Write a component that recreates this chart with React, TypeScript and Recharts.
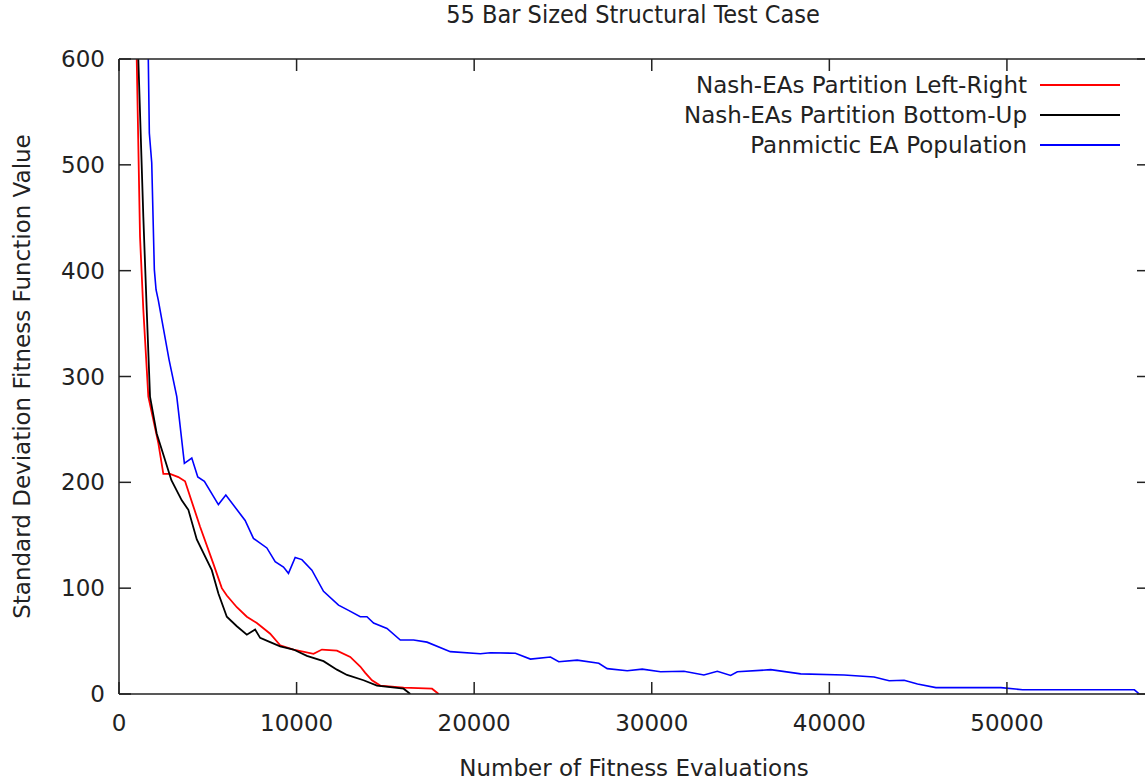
import { LineChart, Line, XAxis, YAxis, Label } from 'recharts';

const FONT = "'DejaVu Sans', Verdana, sans-serif";
const TITLE_FONT = "'DejaVu Sans Condensed', 'Liberation Sans Narrow', 'DejaVu Sans', sans-serif";

const xTicks = [0, 10000, 20000, 30000, 40000, 50000];
const yTicks = [0, 100, 200, 300, 400, 500, 600];

// Nash-EAs, left-right partition
const leftRight = [
  { x: 900, y: 670 }, { x: 998, y: 600 }, { x: 1184, y: 432 }, { x: 1370, y: 363 },
  { x: 1652, y: 281 }, { x: 2215, y: 237 }, { x: 2497, y: 208 }, { x: 2875, y: 208 },
  { x: 3343, y: 205 }, { x: 3720, y: 201 }, { x: 4566, y: 158 }, { x: 5316, y: 123 },
  { x: 5789, y: 100 }, { x: 6071, y: 93 }, { x: 6635, y: 82 }, { x: 7198, y: 73 },
  { x: 7762, y: 67 }, { x: 8512, y: 57 }, { x: 9076, y: 46 }, { x: 9825, y: 42 },
  { x: 10953, y: 38 }, { x: 11427, y: 42 }, { x: 12271, y: 41 }, { x: 13021, y: 35 },
  { x: 13585, y: 26 }, { x: 13867, y: 20 }, { x: 14245, y: 13 }, { x: 14713, y: 8 },
  { x: 16026, y: 6 }, { x: 17627, y: 5 }, { x: 17999, y: 0 },
];

// Nash-EAs, bottom-up partition
const bottomUp = [
  { x: 1000, y: 680 }, { x: 1088, y: 600 }, { x: 1370, y: 451 }, { x: 1561, y: 363 },
  { x: 1747, y: 281 }, { x: 2125, y: 246 }, { x: 2407, y: 231 }, { x: 2950, y: 202 },
  { x: 3534, y: 183 }, { x: 3906, y: 174 }, { x: 4380, y: 146 }, { x: 5225, y: 117 },
  { x: 5597, y: 95 }, { x: 6071, y: 73 }, { x: 6635, y: 64 }, { x: 7198, y: 56 },
  { x: 7666, y: 61 }, { x: 7948, y: 53 }, { x: 8512, y: 49 }, { x: 9076, y: 45 },
  { x: 9825, y: 42 }, { x: 10581, y: 36 }, { x: 11516, y: 31 }, { x: 12271, y: 23 },
  { x: 12836, y: 18 }, { x: 13771, y: 13 }, { x: 14526, y: 8 }, { x: 16026, y: 5 },
  { x: 16403, y: 0 },
];

// panmictic EA population
const panmictic = [
  { x: 1600, y: 660 }, { x: 1708, y: 530 }, { x: 1843, y: 502 }, { x: 1990, y: 401 },
  { x: 2086, y: 382 }, { x: 2215, y: 372 }, { x: 2818, y: 316 }, { x: 3253, y: 281 },
  { x: 3343, y: 268 }, { x: 3681, y: 218 }, { x: 4098, y: 223 }, { x: 4436, y: 205 },
  { x: 4808, y: 201 }, { x: 5597, y: 179 }, { x: 6015, y: 188 }, { x: 7103, y: 164 },
  { x: 7571, y: 147 }, { x: 8326, y: 138 }, { x: 8794, y: 125 }, { x: 9262, y: 120 },
  { x: 9543, y: 114 }, { x: 9921, y: 129 }, { x: 10299, y: 127 }, { x: 10862, y: 117 },
  { x: 11516, y: 97 }, { x: 12362, y: 84 }, { x: 12926, y: 79 }, { x: 13585, y: 73 },
  { x: 13963, y: 73 }, { x: 14335, y: 67 }, { x: 15090, y: 62 }, { x: 15840, y: 51 },
  { x: 16590, y: 51 }, { x: 17345, y: 49 }, { x: 18658, y: 40 }, { x: 20350, y: 38 },
  { x: 20913, y: 39 }, { x: 22323, y: 38.5 }, { x: 23168, y: 33 }, { x: 24296, y: 35 },
  { x: 24764, y: 30.5 }, { x: 25800, y: 32 }, { x: 27018, y: 29 }, { x: 27492, y: 24 },
  { x: 28619, y: 22 }, { x: 29465, y: 23.5 }, { x: 30496, y: 21 }, { x: 31810, y: 21.5 },
  { x: 32937, y: 18 }, { x: 33692, y: 21.5 }, { x: 34442, y: 17.5 }, { x: 34820, y: 21 },
  { x: 36697, y: 23 }, { x: 38388, y: 19 }, { x: 40829, y: 18 }, { x: 42520, y: 16 },
  { x: 43366, y: 12.5 }, { x: 44211, y: 13 }, { x: 44966, y: 9.5 }, { x: 45998, y: 6 },
  { x: 49662, y: 6 }, { x: 50885, y: 4 }, { x: 57177, y: 4 }, { x: 57459, y: 0 },
];

const seriesNames = ['Nash-EAs Partition Left-Right', 'Nash-EAs Partition Bottom-Up', 'Panmictic EA Population'];
const seriesColors = ['#ff0000', '#000000', '#0000ff'];

const tickStyle = { fill: '#222', fontSize: 23, fontFamily: FONT };
const AXIS = '#222';

function KeyBox() {
  return (
    <div style={{ position: 'absolute', top: 70, right: 1145 - 1120, fontFamily: FONT, fontSize: 23, color: '#222' }}>
      {seriesNames.map((name, i) => (
        <div
          key={name}
          style={{ display: 'flex', alignItems: 'center', justifyContent: 'flex-end', height: 30 }}
        >
          <span style={{ whiteSpace: 'nowrap' }}>{name}</span>
          <span
            style={{ display: 'inline-block', width: 80, height: 0, borderTop: `2px solid ${seriesColors[i]}`, marginLeft: 13 }}
          />
        </div>
      ))}
    </div>
  );
}

export default function App() {
  return (
    <div style={{ position: 'absolute', left: 0, top: 0, width: 1145, height: 784, overflow: 'hidden', background: '#fff' }}>
      <div
        style={{
          position: 'absolute', top: 0, left: 633, transform: 'translateX(-50%)', whiteSpace: 'nowrap',
          fontFamily: TITLE_FONT, fontStretch: 'condensed', fontSize: 25, lineHeight: '30px', color: '#222',
        }}
      >
        55 Bar Sized Structural Test Case
      </div>
      <div style={{ position: 'absolute', left: 0, top: 0 }}>
        <LineChart width={1150} height={784} margin={{ top: 49, right: 0, bottom: 0, left: 0 }}>
          <XAxis
            type="number"
            dataKey="x"
            domain={[0, 58000]}
            allowDataOverflow
            ticks={xTicks}
            height={90}
            stroke={AXIS}
            strokeWidth={1.5}
            tickSize={-12}
            tickMargin={33}
            tick={tickStyle}
          >
            <Label
              value="Number of Fitness Evaluations"
              position="insideBottom"
              offset={8}
              style={{ fill: '#222', fontSize: 23, fontFamily: FONT }}
            />
          </XAxis>
          <XAxis
            xAxisId="top"
            orientation="top"
            type="number"
            dataKey="x"
            domain={[0, 58000]}
            allowDataOverflow
            ticks={xTicks}
            height={10}
            stroke={AXIS}
            strokeWidth={1.5}
            tickSize={-12}
            tick={() => <g />}
          />
          <YAxis
            type="number"
            domain={[0, 600]}
            allowDataOverflow
            ticks={yTicks}
            width={119}
            stroke={AXIS}
            strokeWidth={1.5}
            tickSize={-12}
            tickMargin={26}
            tick={tickStyle}
          >
            <Label
              value="Standard Deviation Fitness Function Value"
              angle={-90}
              position="insideLeft"
              offset={22}
              style={{ textAnchor: 'middle', fill: '#222', fontSize: 23, fontFamily: FONT }}
            />
          </YAxis>
          <YAxis
            yAxisId="right"
            orientation="right"
            type="number"
            domain={[0, 600]}
            allowDataOverflow
            ticks={yTicks}
            width={1}
            stroke={AXIS}
            strokeWidth={1.5}
            tickSize={-12}
            tick={() => <g />}
          />
          <Line
            data={leftRight}
            dataKey="y"
            name={seriesNames[0]}
            type="linear"
            stroke={seriesColors[0]}
            strokeWidth={1.8}
            dot={false}
            isAnimationActive={false}
          />
          <Line
            data={bottomUp}
            dataKey="y"
            name={seriesNames[1]}
            type="linear"
            stroke={seriesColors[1]}
            strokeWidth={1.8}
            dot={false}
            isAnimationActive={false}
          />
          <Line
            data={panmictic}
            dataKey="y"
            name={seriesNames[2]}
            type="linear"
            stroke={seriesColors[2]}
            strokeWidth={1.6}
            dot={false}
            isAnimationActive={false}
          />
        </LineChart>
      </div>
      <KeyBox />
    </div>
  );
}
